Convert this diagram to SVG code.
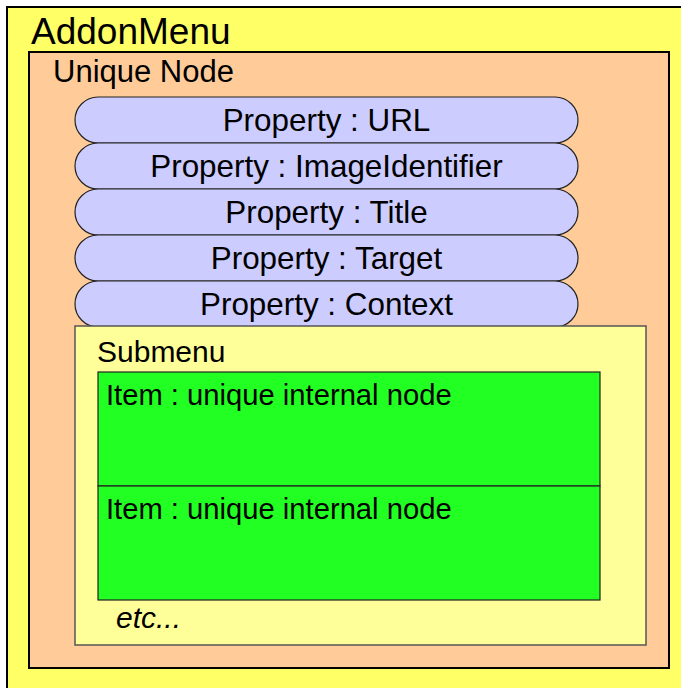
<svg xmlns="http://www.w3.org/2000/svg" width="681" height="688" viewBox="0 0 681 688">
  <style>
    text { font-family: "Liberation Sans", Arial, sans-serif; fill: #000; }
    .frame { fill: #FFFF66; stroke: #000; stroke-width: 2; }
    .node { fill: #FFCC99; stroke: #000; stroke-width: 2; }
    .prop { fill: #CCCCFF; stroke: #222; stroke-width: 1.2; }
    .prop-label { font-size: 31.4px; text-anchor: middle; }
    .sub { fill: #FFFF99; stroke: #555; stroke-width: 1.5; }
    .item { fill: #22FF22; stroke: #222; stroke-width: 1.2; }
    .item-label { font-size: 29.2px; }
  </style>

  <g id="addon-menu">
    <rect class="frame" x="7" y="7" width="700" height="700"/>
    <text x="31" y="44" font-size="37">AddonMenu</text>
  </g>

  <g id="unique-node">
    <rect class="node" x="29" y="52" width="640" height="616"/>
    <text x="53" y="82" font-size="31">Unique Node</text>
  </g>

  <g id="prop-url">
    <rect class="prop" x="75" y="97" width="503" height="46" rx="23" ry="23"/>
    <text class="prop-label" x="326.5" y="131">Property : URL</text>
  </g>
  <g id="prop-image">
    <rect class="prop" x="75" y="143" width="503" height="46" rx="23" ry="23"/>
    <text class="prop-label" x="326.5" y="177">Property : ImageIdentifier</text>
  </g>
  <g id="prop-title">
    <rect class="prop" x="75" y="189" width="503" height="46" rx="23" ry="23"/>
    <text class="prop-label" x="326.5" y="223">Property : Title</text>
  </g>
  <g id="prop-target">
    <rect class="prop" x="75" y="235" width="503" height="46" rx="23" ry="23"/>
    <text class="prop-label" x="326.5" y="269">Property : Target</text>
  </g>
  <g id="prop-context">
    <rect class="prop" x="75" y="281" width="503" height="46" rx="23" ry="23"/>
    <text class="prop-label" x="326.5" y="315">Property : Context</text>
  </g>

  <g id="submenu">
    <rect class="sub" x="75" y="326" width="571" height="319"/>
    <text x="97" y="362" font-size="30">Submenu</text>
  </g>

  <g id="item-1">
    <rect class="item" x="98" y="372" width="502" height="114"/>
    <text class="item-label" x="106" y="405">Item : unique internal node</text>
  </g>
  <g id="item-2">
    <rect class="item" x="98" y="486" width="502" height="114"/>
    <text class="item-label" x="106" y="519">Item : unique internal node</text>
  </g>

  <g id="etc">
    <text x="116" y="628" font-size="30" font-style="italic">etc...</text>
  </g>

  <g id="connectors"/>
</svg>
